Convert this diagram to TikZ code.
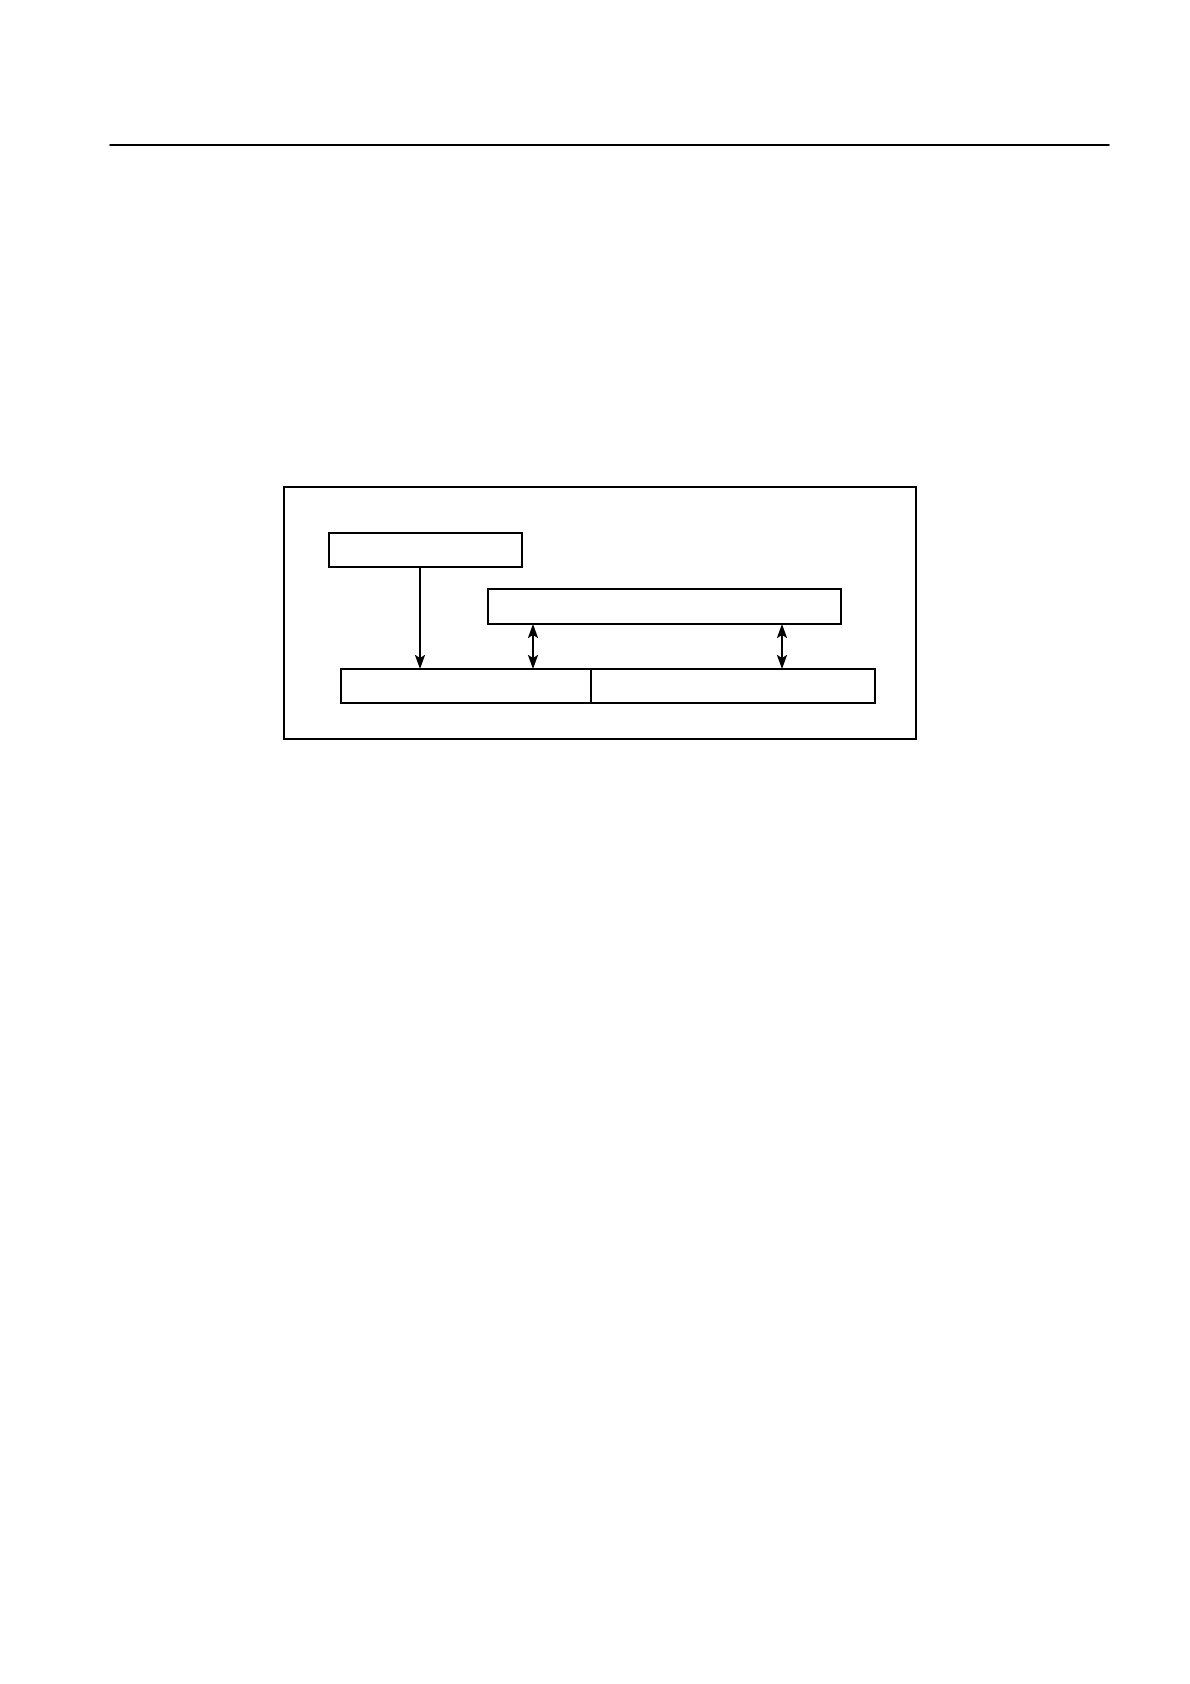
\documentclass[tikz,border=0pt]{standalone}
\usepackage{tikz}
\usetikzlibrary{arrows.meta}

\begin{document}
\begin{tikzpicture}[line cap=round,line join=round,>={Stealth[length=14pt,width=10pt,inset=3pt]},x=1pt,y=1pt,
  blockbox/.style={draw,line width=2.4pt,line join=miter,inner sep=0pt,outer sep=0pt,minimum height=34pt},
  link/.style={line width=2.2pt}]

\useasboundingbox (0,0) rectangle (1190,1684);

% page rule and frame
\draw [line width=1.6pt] (110,1539)-- (1109,1539);
\draw [line width=1.5pt,line join=miter] (284,945) rectangle (916,1197);

% blocks
\node[blockbox,minimum width=193pt] (src) at (425.5,1134) {};
\node[blockbox,minimum width=353pt,minimum height=35pt] (bus) at (664.5,1077.5) {};
\node[blockbox,minimum width=250pt] (lft) at (466,998) {};
\node[blockbox,minimum width=284pt] (rgt) at (733,998) {};

% links
\draw [link,->] ([xshift=-5.5pt]src.south) -- ([xshift=-5.5pt]src.south |- lft.north);
\draw [link,<->] ([xshift=45pt]bus.south west) -- ([xshift=45pt]bus.south west |- lft.north);
\draw [link,<->] ([xshift=-59pt]bus.south east) -- ([xshift=-59pt]bus.south east |- rgt.north);
\end{tikzpicture}
\end{document}
